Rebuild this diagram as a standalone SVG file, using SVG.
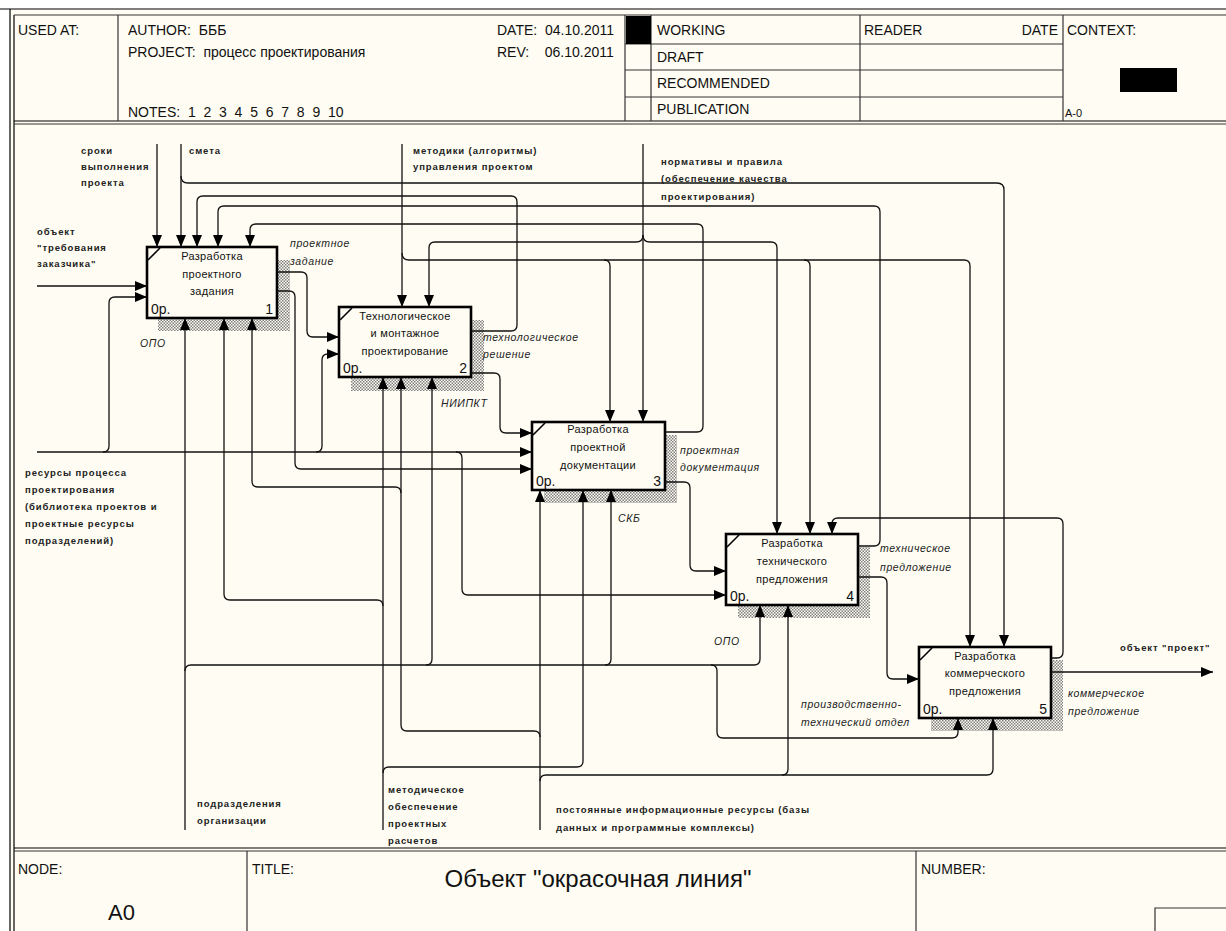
<svg xmlns="http://www.w3.org/2000/svg" width="1226" height="931" viewBox="0 0 1226 931">
<defs>
<pattern id="hatch" width="3" height="3" patternUnits="userSpaceOnUse">
<rect width="3" height="3" fill="#FFFDF3"/>
<rect width="1.5" height="1.5" fill="#808080"/>
<rect x="1.5" y="1.5" width="1.5" height="1.5" fill="#808080"/>
</pattern>
<marker id="ah" markerWidth="13" markerHeight="10" refX="12" refY="5" orient="auto" markerUnits="userSpaceOnUse">
<path d="M0,0 L12,5 L0,10 z" fill="#000"/>
</marker>
<style>
.frame{stroke:#000;stroke-width:1.2;fill:none}
.hline{stroke:#333;stroke-width:1.2;fill:none}
.shadow{fill:url(#hatch);stroke:none}
.box{fill:#FFFDF3;stroke:#000;stroke-width:2.6}
.tick{stroke:#000;stroke-width:1.6}
.conn path{fill:none;stroke:#111;stroke-width:1.3}
.hd{font-family:'Liberation Sans',Arial,sans-serif;font-size:14px;fill:#111;white-space:pre}
.big{font-family:'Liberation Sans',Arial,sans-serif;font-size:22px;fill:#111}
.ttl{font-family:'Liberation Sans',Arial,sans-serif;font-size:24px;fill:#111;text-anchor:middle}
.sm{font-family:'Liberation Sans',Arial,sans-serif;font-size:11px;fill:#111}
.bx{font-family:'Liberation Sans',Arial,sans-serif;font-size:11px;letter-spacing:0.3px;text-anchor:middle;fill:#111}
.num{font-family:'Liberation Sans',Arial,sans-serif;font-size:14px;fill:#111}
.src{font-family:'Liberation Sans',Arial,sans-serif;font-size:9.5px;font-weight:bold;letter-spacing:0.9px;fill:#222}
.lbl{font-family:'Liberation Sans',Arial,sans-serif;font-size:10.5px;font-style:italic;letter-spacing:0.6px;fill:#222}
</style>
</defs>

<rect x="0" y="0" width="1226" height="931" fill="#FFFFFF"/>
<rect x="10" y="9" width="1216" height="922" fill="#FFFDF3"/>

<g id="frame">
<line class="frame" x1="0" y1="9" x2="1226" y2="9" stroke-width="2"/>
<line class="frame" x1="10" y1="9" x2="10" y2="931" stroke-width="1.5"/>
<line class="frame" x1="14" y1="15" x2="14" y2="931"/>
<line class="hline" x1="14" y1="15" x2="1226" y2="15"/>
<line class="frame" x1="14" y1="121" x2="1226" y2="121" stroke-width="1.8"/>
<line class="hline" x1="14" y1="124" x2="1226" y2="124" stroke-width="0.8"/>
<line class="hline" x1="118" y1="15" x2="118" y2="121"/>
<line class="hline" x1="625" y1="15" x2="625" y2="121"/>
<line class="hline" x1="651" y1="15" x2="651" y2="121"/>
<line class="hline" x1="860" y1="15" x2="860" y2="121"/>
<line class="hline" x1="1063" y1="15" x2="1063" y2="121"/>
<line class="hline" x1="625" y1="44" x2="1063" y2="44"/>
<line class="hline" x1="625" y1="70" x2="1063" y2="70"/>
<line class="hline" x1="625" y1="97" x2="1063" y2="97"/>
<rect x="626" y="16" width="25" height="28" fill="#000"/>
<rect x="1120" y="68" width="57" height="24" fill="#000"/>
<text class="hd" x="18" y="35">USED AT:</text>
<text class="hd" x="128" y="35" xml:space="preserve">AUTHOR:  БББ</text>
<text class="hd" x="128" y="57" xml:space="preserve">PROJECT:  процесс проектирования</text>
<text class="hd" x="128" y="117" xml:space="preserve">NOTES:  1  2  3  4  5  6  7  8  9  10</text>
<text class="hd" x="497" y="35" xml:space="preserve">DATE:  04.10.2011</text>
<text class="hd" x="497" y="57" xml:space="preserve">REV:    06.10.2011</text>
<text class="hd" x="657" y="35">WORKING</text>
<text class="hd" x="657" y="62">DRAFT</text>
<text class="hd" x="657" y="88">RECOMMENDED</text>
<text class="hd" x="657" y="114">PUBLICATION</text>
<text class="hd" x="864" y="35">READER</text>
<text class="hd" x="1058" y="35" text-anchor="end">DATE</text>
<text class="hd" x="1067" y="35">CONTEXT:</text>
<text class="sm" x="1065" y="117">A-0</text>

<line class="frame" x1="14" y1="848" x2="1226" y2="848" stroke-width="1.8"/>
<line class="hline" x1="14" y1="851" x2="1226" y2="851" stroke-width="0.8"/>
<line class="hline" x1="247" y1="851" x2="247" y2="931"/>
<line class="hline" x1="916" y1="851" x2="916" y2="931"/>
<polyline class="hline" points="1155,931 1155,908 1226,908"/>
<text class="hd" x="18" y="874">NODE:</text>
<text class="big" x="108" y="920">A0</text>
<text class="hd" x="252" y="874">TITLE:</text>
<text class="ttl" x="598" y="887">Объект "окрасочная линия"</text>
<text class="hd" x="921" y="874">NUMBER:</text>
</g>

<g id="node-1">
<rect class="shadow" x="158" y="260" width="132" height="71"/>
<rect class="box" x="147" y="247" width="130" height="71"/>
<line class="tick" x1="148" y1="260" x2="160" y2="248"/>
<text class="bx" x="212" y="260">Разработка</text>
<text class="bx" x="212" y="278">проектного</text>
<text class="bx" x="212" y="295">задания</text>
<text class="num" x="151" y="314">0р.</text>
<text class="num" x="273" y="314" text-anchor="end">1</text>
</g>

<g id="node-2">
<rect class="shadow" x="351" y="320" width="133" height="71"/>
<rect class="box" x="339" y="307" width="132" height="70"/>
<line class="tick" x1="340" y1="320" x2="352" y2="308"/>
<text class="bx" x="405" y="320">Технологическое</text>
<text class="bx" x="405" y="337">и монтажное</text>
<text class="bx" x="405" y="355">проектирование</text>
<text class="num" x="343" y="373">0р.</text>
<text class="num" x="467" y="373" text-anchor="end">2</text>
</g>

<g id="node-3">
<rect class="shadow" x="544" y="435" width="133" height="68"/>
<rect class="box" x="532" y="422" width="133" height="68"/>
<line class="tick" x1="533" y1="435" x2="545" y2="423"/>
<text class="bx" x="598" y="433">Разработка</text>
<text class="bx" x="598" y="451">проектной</text>
<text class="bx" x="598" y="469">документации</text>
<text class="num" x="536" y="486">0р.</text>
<text class="num" x="661" y="486" text-anchor="end">3</text>
</g>

<g id="node-4">
<rect class="shadow" x="738" y="547" width="132" height="71"/>
<rect class="box" x="726" y="534" width="132" height="71"/>
<line class="tick" x1="727" y1="547" x2="739" y2="535"/>
<text class="bx" x="792" y="547">Разработка</text>
<text class="bx" x="792" y="565">технического</text>
<text class="bx" x="792" y="583">предложения</text>
<text class="num" x="730" y="601">0р.</text>
<text class="num" x="854" y="601" text-anchor="end">4</text>
</g>

<g id="node-5">
<rect class="shadow" x="931" y="660" width="132" height="71"/>
<rect class="box" x="919" y="647" width="132" height="71"/>
<line class="tick" x1="920" y1="660" x2="932" y2="648"/>
<text class="bx" x="985" y="660">Разработка</text>
<text class="bx" x="985" y="677">коммерческого</text>
<text class="bx" x="985" y="695">предложения</text>
<text class="num" x="923" y="714">0р.</text>
<text class="num" x="1047" y="714" text-anchor="end">5</text>
</g>

<g id="connectors" class="conn">
<path d="M157 144 V247" marker-end="url(#ah)"/>
<path d="M181 144 V247" marker-end="url(#ah)"/>
<path d="M181 176 Q181 183 188 183 H997 Q1004 183 1004 190 V647" marker-end="url(#ah)"/>
<path d="M471 331 H511 Q517 331 517 325 V202 Q517 196 511 196 H203 Q197 196 197 202 V247" marker-end="url(#ah)"/>
<path d="M858 546 H874 Q880 546 880 540 V212 Q880 206 874 206 H224 Q218 206 218 212 V247" marker-end="url(#ah)"/>
<path d="M665 432 H697 Q703 432 703 426 V230 Q703 224 697 224 H256 Q250 224 250 230 V247" marker-end="url(#ah)"/>
<path d="M402 144 V307" marker-end="url(#ah)"/>
<path d="M402 253 Q402 260 409 260 H604 Q610 260 610 266 V422" marker-end="url(#ah)"/>
<path d="M604 260 H804 Q810 260 810 266 V534" marker-end="url(#ah)"/>
<path d="M804 260 H964 Q970 260 970 266 V647" marker-end="url(#ah)"/>
<path d="M643 144 V422" marker-end="url(#ah)"/>
<path d="M643 235 Q643 242 636 242 H435 Q429 242 429 248 V307" marker-end="url(#ah)"/>
<path d="M643 235 Q643 242 650 242 H771 Q777 242 777 248 V534" marker-end="url(#ah)"/>
<path d="M1051 658 H1057 Q1063 658 1063 652 V524 Q1063 518 1057 518 H838 Q832 518 832 524 V534" marker-end="url(#ah)"/>

<path d="M37 286 H147" marker-end="url(#ah)"/>
<path d="M37 452 H532" marker-end="url(#ah)"/>
<path d="M103 452 Q109 452 109 446 V303 Q109 297 115 297 H147" marker-end="url(#ah)"/>
<path d="M316 452 Q322 452 322 446 V360 Q322 354 328 354 H339" marker-end="url(#ah)"/>
<path d="M456 452 Q462 452 462 458 V589 Q462 595 468 595 H726" marker-end="url(#ah)"/>
<path d="M277 272 H301 Q307 272 307 278 V331 Q307 337 313 337 H339" marker-end="url(#ah)"/>
<path d="M277 291 H289 Q295 291 295 297 V463 Q295 469 301 469 H532" marker-end="url(#ah)"/>
<path d="M471 373 H494 Q500 373 500 379 V427 Q500 433 506 433 H532" marker-end="url(#ah)"/>
<path d="M665 482 H684 Q690 482 690 488 V565 Q690 571 696 571 H726" marker-end="url(#ah)"/>
<path d="M858 577 H881 Q887 577 887 583 V673 Q887 679 893 679 H919" marker-end="url(#ah)"/>
<path d="M1051 672 H1213" marker-end="url(#ah)"/>

<path d="M185 830 V318" marker-end="url(#ah)"/>
<path d="M185 671 Q185 665 191 665 H426 Q432 665 432 659 V377" marker-end="url(#ah)"/>
<path d="M426 665 H605 Q611 665 611 659 V490" marker-end="url(#ah)"/>
<path d="M605 665 H754 Q760 665 760 659 V605" marker-end="url(#ah)"/>
<path d="M711 665 Q717 665 717 671 V732 Q717 738 723 738 H952 Q958 738 958 732 V718" marker-end="url(#ah)"/>
<path d="M383 830 V377" marker-end="url(#ah)"/>
<path d="M383 606 Q383 600 377 600 H230 Q224 600 224 594 V318" marker-end="url(#ah)"/>
<path d="M383 773 Q383 767 389 767 H577 Q583 767 583 761 V490" marker-end="url(#ah)"/>
<path d="M540 830 V490" marker-end="url(#ah)"/>
<path d="M540 737 Q540 731 534 731 H407 Q401 731 401 725 V377" marker-end="url(#ah)"/>
<path d="M401 493 Q401 487 395 487 H258 Q252 487 252 481 V318" marker-end="url(#ah)"/>
<path d="M540 781 Q540 775 546 775 H782 Q788 775 788 769 V605" marker-end="url(#ah)"/>
<path d="M782 775 H987 Q993 775 993 769 V718" marker-end="url(#ah)"/>
</g>

<g id="labels">
<text class="src" x="81" y="154">сроки</text>
<text class="src" x="81" y="170">выполнения</text>
<text class="src" x="81" y="186">проекта</text>
<text class="src" x="189" y="154">смета</text>
<text class="src" x="37" y="235">объект</text>
<text class="src" x="37" y="251">"требования</text>
<text class="src" x="37" y="267">заказчика"</text>
<text class="src" x="413" y="154">методики (алгоритмы)</text>
<text class="src" x="413" y="170">управления проектом</text>
<text class="src" x="661" y="165">нормативы и правила</text>
<text class="src" x="661" y="182">(обеспечение качества</text>
<text class="src" x="661" y="200">проектирования)</text>
<text class="src" x="25" y="476">ресурсы процесса</text>
<text class="src" x="25" y="493">проектирования</text>
<text class="src" x="25" y="510">(библиотека проектов и</text>
<text class="src" x="25" y="527">проектные ресурсы</text>
<text class="src" x="25" y="544">подразделений)</text>
<text class="src" x="197" y="807">подразделения</text>
<text class="src" x="197" y="824">организации</text>
<text class="src" x="388" y="793">методическое</text>
<text class="src" x="388" y="810">обеспечение</text>
<text class="src" x="388" y="827">проектных</text>
<text class="src" x="388" y="844">расчетов</text>
<text class="src" x="556" y="813">постоянные информационные ресурсы (базы</text>
<text class="src" x="556" y="831">данных и программные комплексы)</text>
<text class="src" x="1120" y="651">объект "проект"</text>

<text class="lbl" x="290" y="247">проектное</text>
<text class="lbl" x="290" y="265">задание</text>
<text class="lbl" x="483" y="341">технологическое</text>
<text class="lbl" x="483" y="358">решение</text>
<text class="lbl" x="441" y="407">НИИПКТ</text>
<text class="lbl" x="140" y="347">ОПО</text>
<text class="lbl" x="680" y="454">проектная</text>
<text class="lbl" x="680" y="471">документация</text>
<text class="lbl" x="618" y="522">СКБ</text>
<text class="lbl" x="880" y="552">техническое</text>
<text class="lbl" x="880" y="571">предложение</text>
<text class="lbl" x="714" y="645">ОПО</text>
<text class="lbl" x="801" y="708">производственно-</text>
<text class="lbl" x="801" y="726">технический отдел</text>
<text class="lbl" x="1068" y="697">коммерческое</text>
<text class="lbl" x="1068" y="715">предложение</text>
</g>
</svg>
